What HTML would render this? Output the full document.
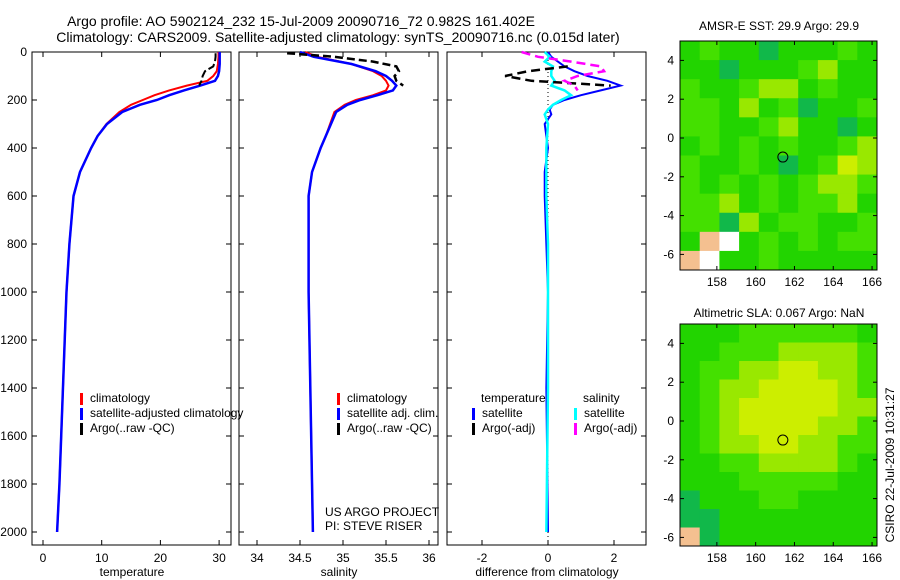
<!DOCTYPE html>
<html><head><meta charset="utf-8"><style>
body{margin:0;background:#fff}
svg{display:block;font-family:"Liberation Sans",sans-serif}
text{font-size:12px;fill:#000}
</style></head><body>
<svg id="c" width="900" height="580" viewBox="0 0 900 580">
<text x="301" y="26" text-anchor="middle" style="font-size:14px">Argo profile: AO 5902124_232 15-Jul-2009 20090716_72 0.982S 161.402E</text>
<text x="338" y="42" text-anchor="middle" style="font-size:14px">Climatology: CARS2009. Satellite-adjusted climatology: synTS_20090716.nc (0.015d later)</text>
<text x="779" y="30" text-anchor="middle" style="font-size:12px">AMSR-E SST: 29.9 Argo: 29.9</text>
<text x="779" y="317" text-anchor="middle" style="font-size:12px">Altimetric SLA: 0.067 Argo: NaN</text>
<text transform="translate(894,465) rotate(-90)" text-anchor="middle" style="font-size:12px">CSIRO 22-Jul-2009 10:31:27</text>
<g id="g"></g>
</svg>
<script>
const depths=[0,20,50,80,100,120,140,160,180,200,220,250,300,350,400,500,600,800,1000,1200,1400,1600,1800,2000];
const climTemp=[29.9,29.9,29.8,29.6,29.0,28.0,24.5,21.5,19.0,17.0,15.0,13.0,10.8,9.3,8.2,6.3,5.2,4.5,4.0,3.7,3.4,3.1,2.8,2.4];
const satTemp=[30.1,30.1,30.1,30.0,29.8,29.3,26.8,24.0,21.5,19.4,16.5,13.5,10.9,9.3,8.2,6.3,5.2,4.5,4.0,3.7,3.4,3.1,2.8,2.4];
const climSal=[34.56,34.7,35.1,35.35,35.45,35.5,35.53,35.5,35.35,35.15,35.02,34.9,34.85,34.8,34.74,34.64,34.6,34.6,34.6,34.61,34.62,34.63,34.64,34.65];
const satSal=[34.5,34.66,35.1,35.38,35.5,35.57,35.62,35.58,35.4,35.2,35.05,34.92,34.86,34.8,34.74,34.64,34.6,34.6,34.6,34.61,34.62,34.63,34.64,34.65];
const argoDepths=[5,20,40,60,80,100,120,140];
const argoTemp=[29.4,29.4,29.3,29.0,27.6,27.2,27.0,26.6];
const argoSal=[34.35,34.9,35.35,35.62,35.65,35.6,35.62,35.7];
const diffDepths=[0,20,40,60,80,100,120,140,160,180,200,220,240,260,300,400,500,600,800,1000,1400,2000];
const satTempDiff=[0.0,0.1,0.3,0.5,0.8,1.2,1.8,2.2,1.6,1.0,0.5,0.15,0.05,0.1,-0.1,0.0,-0.1,-0.1,-0.05,0,-0.05,0.0];
const satSalDiff=[-0.1,0.05,-0.1,0.15,0.1,0.1,0.2,0.1,0.5,0.7,0.4,0.15,0.0,-0.1,0.0,-0.05,-0.05,-0.05,0,0,0,-0.05];
const argoTDiffD=[60,80,100,120,140];
const argoTDiff=[0.6,-0.6,-1.3,-0.5,1.9];
const argoSDiffD=[0,20,40,60,80,100,120,140,160];
const argoSDiff=[-0.8,-0.3,0.7,1.6,1.7,0.9,0.5,0.8,0.9];
const tempTicks=[0,10,20,30], salTicks=[34,34.5,35,35.5,36], diffTicks=[-2,0,2], depthTicks=[0,200,400,600,800,1000,1200,1400,1600,1800,2000];
const lonTicks=[158,160,162,164,166], latTicks=[4,2,0,-2,-4,-6];
// SST map: 10 cols x 12 rows (lon 156.1-166.3, lat 5 to -6.9), level 0..4, x=land, -=missing
const sstGrid=["1211011121","1101112311","2112331211","2213120112","2211231101","1212121123","2112101243","2121212332","2231212231","2203122112","1x-1212122","x-11211111"];
const slaGrid=["1112222221","1122233332","1223344332","1233444432","1234444433","1234444332","1233443322","1122333321","1112222211","0111221111","0011111111","x011111111"];
const NS="http://www.w3.org/2000/svg", G=document.getElementById('g');
function mk(t,a,p){const e=document.createElementNS(NS,t);for(const k in a)e.setAttribute(k,a[k]);(p||G).appendChild(e);return e;}
const dy=d=>52+d*0.24;
const tx=v=>43+v*5.87, sx=v=>257+(v-34)*86, fx=v=>548+v*33;
function panel(x0,name){const r=mk('rect',{x:x0,y:52,width:199,height:493,fill:'none',stroke:'#000'});

}
function line(xs,ds,xf,col,w,dash,name){const p=mk('polyline',{points:xs.map((v,i)=>xf(v)+','+dy(ds[i])).join(' '),fill:'none',stroke:col,'stroke-width':w,'stroke-dasharray':dash||'none'});

}
function xTicks(ticks,xf,x0,lab){ticks.forEach(t=>{const x=xf(t);mk('line',{x1:x,x2:x,y1:545,y2:540,stroke:'#000'});mk('line',{x1:x,x2:x,y1:52,y2:57,stroke:'#000'});
const tt=mk('text',{x:x,y:562,'text-anchor':'middle'});tt.textContent=t;

});
const l=mk('text',{x:x0+100,y:576,'text-anchor':'middle'});l.textContent=lab;

}
function yTicks(x0){depthTicks.forEach(d=>{mk('line',{x1:x0,x2:x0+5,y1:dy(d),y2:dy(d),stroke:'#000'});mk('line',{x1:x0+199,x2:x0+194,y1:dy(d),y2:dy(d),stroke:'#000'});});}
function legend(x,y,items){items.forEach((it,i)=>{mk('rect',{x:x,y:y+i*15-9,width:3,height:12,fill:it[1]});const t=mk('text',{x:x+10,y:y+i*15});t.textContent=it[0];

});}
panel(32,'temperature-panel');panel(239,'salinity-panel');panel(447,'difference-panel');
[32,239,447].forEach(yTicks);
depthTicks.forEach(d=>{const t=mk('text',{x:27,y:dy(d)+4,'text-anchor':'end'});t.textContent=d;

});
xTicks(tempTicks,tx,32,'temperature');xTicks(salTicks,sx,239,'salinity');xTicks(diffTicks,fx,447,'difference from climatology');
line(climTemp,depths,tx,'#f00',2,null,'climatology-temp-line');
line(satTemp,depths,tx,'#00f',2.5,null,'satellite-temp-line');
line(argoTemp,argoDepths,tx,'#000',2,'8,3','argo-temp-line');
line(climSal,depths,sx,'#f00',2,null,'climatology-salinity-line');
line(satSal,depths,sx,'#00f',2.5,null,'satellite-salinity-line');
line(argoSal,argoDepths,sx,'#000',2.5,'8,4','argo-salinity-line');
mk('line',{x1:fx(0),x2:fx(0),y1:52,y2:545,stroke:'#000','stroke-dasharray':'1,3'});
line(satTempDiff,diffDepths,fx,'#00f',2,null,'satellite-temp-diff-line');
line(satSalDiff,diffDepths,fx,'#0ff',2.5,null,'satellite-sal-diff-line');
line(argoTDiff,argoTDiffD,fx,'#000',2.5,'9,5','argo-temp-diff-line');
line(argoSDiff,argoSDiffD,fx,'#f0f',2.5,'9,5','argo-sal-diff-line');
legend(80,402,[['climatology','#f00'],['satellite-adjusted climatology','#00f'],['Argo(..raw -QC)','#000']]);
legend(337,402,[['climatology','#f00'],['satellite adj. clim.','#00f'],['Argo(..raw -QC)','#000']]);
legend(472,417,[['satellite','#00f'],['Argo(-adj)','#000']]);
legend(574,417,[['satellite','#0ff'],['Argo(-adj)','#f0f']]);
let t=mk('text',{x:481,y:402});t.textContent='temperature';


t=mk('text',{x:583,y:402});t.textContent='salinity';


t=mk('text',{x:325,y:516});t.textContent='US ARGO PROJECT';


t=mk('text',{x:325,y:530});t.textContent='PI: STEVE RISER';


const cols=['#11b84a','#22d400','#44e000','#99e800','#ccee00'];
const lonX=(lon)=>680+(lon-156.1)*19.4;
function map(y0,h,grid,name){const latY=lat=>y0+(5-lat)*19.4;
const cw=197/10, ch=h/12;
grid.forEach((row,r)=>{[...row].forEach((c,ci)=>{let f=c==='x'?'#f4c090':c==='-'?'#fff':cols[+c];
const cell=mk('rect',{x:680+ci*cw,y:y0+r*ch,width:cw+0.5,height:ch+0.5,fill:f});

});});
const fr=mk('rect',{x:680,y:y0,width:197,height:h,fill:'none',stroke:'#000'});


lonTicks.forEach(l=>{const x=lonX(l);mk('line',{x1:x,x2:x,y1:y0+h,y2:y0+h-4,stroke:'#000'});mk('line',{x1:x,x2:x,y1:y0,y2:y0+4,stroke:'#000'});
const tt=mk('text',{x:x,y:y0+h+16,'text-anchor':'middle'});tt.textContent=l;

});
latTicks.forEach(l=>{const y=latY(l);mk('line',{x1:680,x2:684,y1:y,y2:y,stroke:'#000'});mk('line',{x1:877,x2:873,y1:y,y2:y,stroke:'#000'});
const tt=mk('text',{x:674,y:y+4,'text-anchor':'end'});tt.textContent=l;

});
const c=mk('circle',{cx:lonX(161.402),cy:latY(-0.982),r:5,fill:'none',stroke:'#000'});

}
map(41,229,sstGrid,'sst-map');
map(324,222,slaGrid,'sla-map');
</script>
</body></html>
